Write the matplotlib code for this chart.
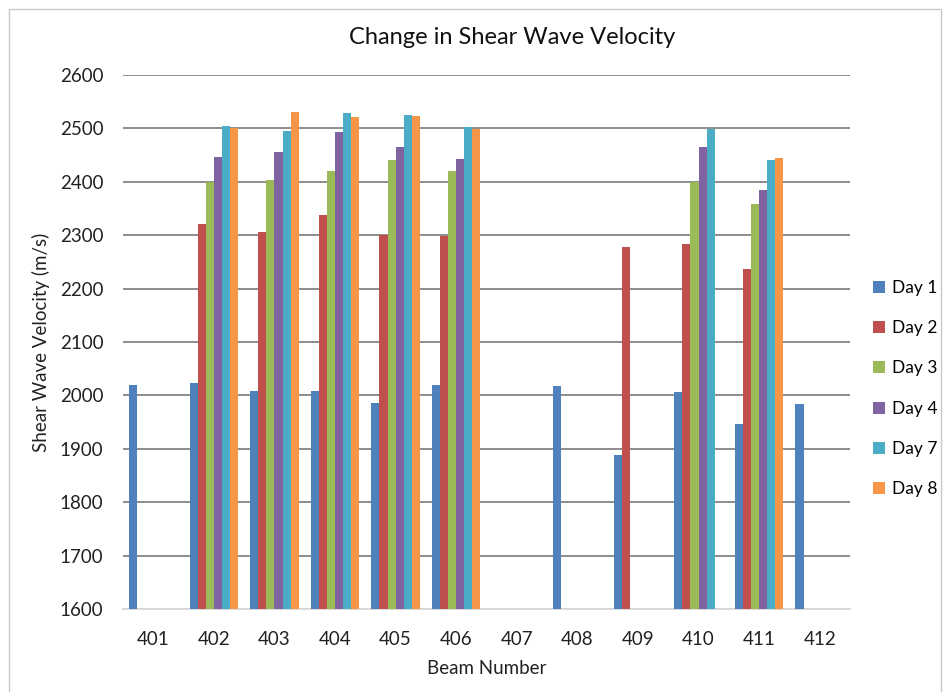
import matplotlib
matplotlib.use("Agg")
import matplotlib.pyplot as plt
import numpy as np

nan = np.nan

# ── Data ──────────────────────────────────────────────────────────────────────

beams = ["401", "402", "403", "404", "405", "406", "407", "408", "409", "410", "411", "412"]
day1 = [2019, 2024, 2009, 2009, 1986, 2020, nan, 2017, 1889, 2006, 1947, 1983]
day2 = [nan, 2321, 2306, 2338, 2300, 2298, nan, nan, 2278, 2284, 2237, nan]
day3 = [nan, 2400, 2404, 2421, 2440, 2421, nan, nan, nan, 2400, 2358, nan]
day4 = [nan, 2447, 2456, 2494, 2465, 2443, nan, nan, nan, 2465, 2384, nan]
day7 = [nan, 2504, 2496, 2528, 2526, 2503, nan, nan, nan, 2499, 2441, nan]
day8 = [nan, 2500, 2531, 2521, 2523, 2499, nan, nan, nan, nan, 2444, nan]
series_names = ["Day 1", "Day 2", "Day 3", "Day 4", "Day 7", "Day 8"]
y_ticks = [1600, 1700, 1800, 1900, 2000, 2100, 2200, 2300, 2400, 2500, 2600]

COLORS = ["#4F81BD", "#C0504D", "#9BBB59", "#8064A2", "#4BACC6", "#F79646"]
W, H = 943, 692

plt.rcParams["font.family"] = ["Lato", "DejaVu Sans"]

fig = plt.figure(figsize=(W / 100, H / 100), dpi=100)
ax = fig.add_axes([123 / W, 1 - 609 / H, (850 - 123) / W, (609 - 75) / H])

x = np.arange(len(beams))
width = 0.8 / 6
series = [day1, day2, day3, day4, day7, day8]
for i, (vals, name) in enumerate(zip(series, series_names)):
    v = np.array(vals, dtype=float)
    ax.bar(x - 0.4 + width * (i + 0.5), v - 1600, width, bottom=1600,
           color=COLORS[i], label=name, zorder=3)

ax.set_xlim(-0.5, len(beams) - 0.5)
ax.set_ylim(1600, 2600)
ax.set_yticks(y_ticks)
ax.set_xticks(x)
ax.set_xticklabels(beams)
ax.tick_params(axis="both", length=0, labelsize=13.5, colors="#222222")
ax.tick_params(axis="y", pad=14)
ax.tick_params(axis="x", pad=16)
ax.grid(axis="y", color="#8C8C8C", linewidth=1.4, zorder=0)
for side in ("top", "right", "left"):
    ax.spines[side].set_visible(False)
ax.spines["bottom"].set_color("#D9D9D9")
ax.spines["bottom"].set_linewidth(1.4)

fig.text(512 / W, 1 - 37 / H, "Change in Shear Wave Velocity", fontsize=17,
         ha="center", va="center", color="#111111")
ax.set_xlabel("Beam Number", fontsize=13.5, color="#222222")
ax.xaxis.set_label_coords(0.5, -(660 - 609) / 534)
ax.set_ylabel("Shear Wave Velocity (m/s)", fontsize=13.5, color="#222222")
ax.yaxis.set_label_coords(-(123 - 50) / 727, 0.5)

fig.legend(*ax.get_legend_handles_labels(), loc="center left",
           bbox_to_anchor=(873 / W, 1 - 388.5 / H), frameon=False,
           fontsize=12.5, handlelength=0.7, handleheight=0.7, labelspacing=1.4,
           handletextpad=0.4, borderpad=0, borderaxespad=0)

fig.patches.append(plt.Rectangle((9 / W, -0.05), (941 - 9) / W, 1.05 - 9 / H,
                                 transform=fig.transFigure, fill=False,
                                 edgecolor="#C8C8C8", linewidth=1))

fig.savefig("out.png", dpi=100)
